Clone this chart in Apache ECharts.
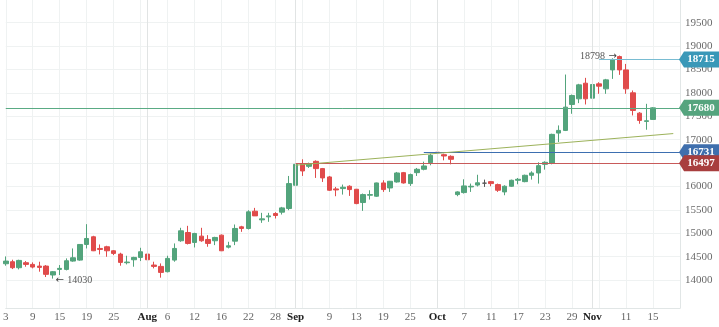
<!DOCTYPE html>
<html>
<head>
<meta charset="utf-8">
<script src="https://cdn.jsdelivr.net/npm/echarts@6/dist/echarts.min.js"></script>
<style>
  html, body { margin: 0; padding: 0; background: #ffffff; }
  #chart { width: 719px; height: 327px; }
</style>
</head>
<body>
<div id="chart"></div>
<script>
// Trading sessions (the last four are empty future sessions on the axis)
const days = [
  'Jul 3','Jul 4','Jul 5','Jul 8','Jul 9','Jul 10','Jul 11','Jul 12','Jul 15','Jul 16','Jul 17',
  'Jul 18','Jul 19','Jul 22','Jul 23','Jul 24','Jul 25','Jul 26','Jul 29','Jul 30','Jul 31',
  'Aug 1','Aug 2','Aug 5','Aug 6','Aug 7','Aug 8','Aug 9','Aug 12','Aug 13','Aug 14','Aug 15',
  'Aug 16','Aug 19','Aug 20','Aug 21','Aug 22','Aug 23','Aug 26','Aug 27','Aug 28','Aug 29','Aug 30',
  'Sep 2','Sep 3','Sep 4','Sep 5','Sep 6','Sep 9','Sep 10','Sep 11','Sep 12','Sep 13','Sep 16',
  'Sep 17','Sep 18','Sep 19','Sep 20','Sep 23','Sep 24','Sep 25','Sep 26','Sep 27','Sep 30',
  'Oct 1','Oct 2','Oct 3','Oct 4','Oct 7','Oct 8','Oct 9','Oct 10','Oct 11','Oct 14','Oct 15',
  'Oct 16','Oct 17','Oct 18','Oct 21','Oct 22','Oct 23','Oct 24','Oct 25','Oct 28','Oct 29',
  'Oct 30','Oct 31',
  'Nov 1','Nov 4','Nov 5','Nov 6','Nov 7','Nov 11','Nov 12','Nov 13','Nov 14','Nov 15',
  'Nov 18','Nov 19','Nov 20','Nov 21'
];

const opens = [
  14348,14391,14263,14370,14334,14298,14298,14107,14227,14227,14405,14426,14760,14924,14675,14711,
  14625,14554,14370,14433,14483,14554,14320,14291,14178,14426,14839,15016,14803,14938,14867,14839,
  14959,14703,14831,15137,15101,15471,15286,15350,15421,15450,15528,16025,16473,16430,16537,16381,
  16203,15947,15954,16004,15940,15656,15812,15791,16075,15968,16096,16295,16061,16295,16367,16509,
  16731,16679,16644,15826,15869,15990,16030,16070,16103,16039,15883,16004,16132,16103,16238,16288,
  16473,16502,17141,17198,17752,17873,18207,17887,18193,18086,18491,18776,18491,18001,17567,17390,
  17432
];
const closes = [
  14405,14263,14419,14334,14277,14270,14121,14178,14249,14412,14476,14760,14888,14625,14654,14625,
  14569,14377,14384,14483,14604,14433,14291,14163,14462,14675,15052,14782,14995,14839,14782,14910,
  14625,14732,15102,15102,15457,15371,15307,15371,15379,15542,16061,16473,16331,16487,16381,16182,
  15919,15926,15983,15933,15634,15826,15826,16075,15933,16111,16288,16075,16253,16367,16438,16665,
  16722,16651,16580,15883,16011,16004,16078,16070,16061,15919,16004,16132,16153,16238,16288,16445,
  16516,17113,17198,17695,17944,18171,17873,18179,18143,18278,18715,18491,18086,17624,17411,17404,
  17680
];
const lows = [
  14306,14234,14227,14284,14249,14178,14064,14030,14107,14206,14391,14412,14675,14618,14547,14497,
  14533,14306,14334,14284,14405,14341,14249,14050,14163,14391,14817,14760,14696,14817,14711,14746,
  14618,14675,14746,15030,15080,15371,15222,15244,15315,15400,15492,16025,16224,16395,16182,16096,
  15904,15791,15826,15798,15620,15478,15720,15777,15883,15883,16082,16061,16011,16224,16345,16452,
  16497,16558,16473,15791,15848,15883,16000,15990,16004,15883,15812,15990,16047,16089,16146,16061,
  16359,16473,16949,17184,17553,17781,17752,17710,17980,17980,18299,18385,17980,17518,17340,17212,
  17425
];
const highs = [
  14505,14434,14434,14405,14377,14391,14320,14192,14320,14462,14675,14760,15194,14945,14760,14732,
  14640,14583,14519,14497,14689,14568,14391,14355,14519,14782,15116,15158,15009,15116,14959,14924,
  14973,14817,15187,15158,15492,15542,15436,15436,15450,15563,16224,16580,16580,16509,16558,16395,
  16224,15990,16040,16025,15947,15848,15919,16082,16132,16118,16310,16310,16274,16395,16530,16700,
  16731,16700,16665,15897,16153,16061,16250,16146,16118,16061,16025,16146,16181,16253,16324,16516,
  16537,17127,17304,18392,17965,18193,18321,18207,18228,18299,18740,18798,18619,18051,17589,17766,
  17695
];

// Price axis labels
const yTicks = [14000,14500,15000,15500,16000,16500,17000,17500,18000,18500,19000,19500];

// Key levels and annotated extremes
const lastPrice = 17680;
const recentHighClose = 18715;
const breakoutLevel = 16731;
const supportLevel = 16497;
const trendStart = 16455;
const trendEnd = 17130;
const swingLow = 14030;
const swingHigh = 18798;

const FONT = '"Liberation Serif", "DejaVu Serif", serif';
const UP = '#53a47c';
const DOWN = '#e04b4b';
const GRID = '#eff2f2';

const ohlc = opens.map((o, i) => [o, closes[i], lows[i], highs[i]]);
const lastIdx = days.length - 1;
const lowIdx = lows.indexOf(swingLow);
const highIdx = highs.indexOf(swingHigh);
const firstOf = (m) => days.findIndex(d => d.startsWith(m));

const monthName = (d) => d.split(' ')[0];
const isMonthStart = (i) => i > 0 && monthName(days[i]) !== monthName(days[i - 1]);
const monthStarts = days.map((d, i) => i).filter(isMonthStart);
const nearMonthStart = (i) => monthStarts.some(m => m !== i && Math.abs(m - i) < 3);

function tag(value, color) {
  return {
    coord: [lastIdx, value],
    value: value,
    symbol: 'path://M0,8 L5,0 L40,0 L40,16 L5,16 Z',
    symbolSize: [40, 16],
    symbolOffset: [19, 0],
    itemStyle: { color: color },
    label: {
      show: true, position: 'inside', formatter: String(value), offset: [2, 0],
      color: '#ffffff', fontFamily: FONT, fontSize: 11, fontWeight: 'bold'
    }
  };
}

function hline(fromIdx, toIdx, v1, v2, color) {
  return [
    { coord: [fromIdx, v1], lineStyle: { color: color, width: 1, type: 'solid' } },
    { coord: [toIdx, v2] }
  ];
}

// Small arrow + number callouts at the swing extremes
const calloutRich = {
  a: { fontFamily: '"DejaVu Sans", sans-serif', fontSize: 10, color: '#444444' },
  n: { fontFamily: FONT, fontSize: 10, color: '#555555', padding: [0, 0, 0, 0] }
};
function callout(idx, value, side) {
  return {
    coord: [idx, value], symbol: 'rect', symbolSize: 1,
    itemStyle: { color: 'rgba(0,0,0,0)' },
    label: {
      show: true, position: side, distance: 2, offset: [0, side === 'right' ? 2 : 1],
      formatter: side === 'right' ? '{a|\u2190} {n|' + value + '}' : '{n|' + value + '} {a|\u2192}',
      rich: calloutRich
    }
  };
}

const monthLines = monthStarts.map(i => ({
  xAxis: i, lineStyle: { color: '#e1e4e4', width: 1, type: 'solid' }
}));

const chart = echarts.init(document.getElementById('chart'), null, { renderer: 'canvas' });

chart.setOption({
  backgroundColor: '#ffffff',
  animation: false,
  grid: { left: 3, right: 39, top: 0, bottom: 19, containLabel: false },
  xAxis: {
    type: 'category',
    data: days,
    boundaryGap: false,
    axisLine: { show: true, lineStyle: { color: '#e1e6e6' } },
    axisTick: { show: false },
    splitLine: { show: true, interval: 3, lineStyle: { color: GRID, width: 1 } },
    axisLabel: {
      show: true,
      margin: 4,
      interval: (i) => i <= lastIdx - 4 && ((i % 4 === 0 && !nearMonthStart(i)) || isMonthStart(i)),
      formatter: (value, i) => isMonthStart(i) ? '{m|' + monthName(value) + '}' : value.split(' ')[1],
      color: '#666666',
      fontFamily: FONT,
      fontSize: 11,
      rich: {
        m: { color: '#222222', fontWeight: 'bold', fontFamily: FONT, fontSize: 11 }
      }
    }
  },
  yAxis: {
    type: 'value',
    position: 'right',
    min: 13402,
    max: 19985,
    scale: true,
    axisLine: { show: true, lineStyle: { color: '#e1e6e6' } },
    axisTick: { show: false, customValues: yTicks },
    splitLine: { show: true, lineStyle: { color: GRID, width: 1 } },
    axisLabel: {
      show: true, customValues: yTicks, margin: 5,
      formatter: (v) => String(v),
      color: '#6b6b6b', fontFamily: FONT, fontSize: 11
    }
  },
  series: [{
    type: 'candlestick',
    data: ohlc,
    barWidth: 5,
    itemStyle: {
      color: UP, color0: DOWN,
      borderColor: UP, borderColor0: DOWN,
      borderColorDoji: '#555555',
      borderWidth: 1
    },
    markLine: {
      silent: true,
      symbol: ['none', 'none'],
      label: { show: false },
      data: [
        ...monthLines,
        { yAxis: lastPrice, lineStyle: { color: '#5aab84', width: 1, type: 'solid' } },
        hline(firstOf('Sep'), lastIdx, supportLevel, supportLevel, '#c85a5a'),
        hline(62, lastIdx, breakoutLevel, breakoutLevel, '#3d6fb0'),
        hline(88, lastIdx, recentHighClose, recentHighClose, '#79bcd2'),
        [
          { coord: [firstOf('Sep'), trendStart], lineStyle: { color: '#9cb25a', width: 1, type: 'solid' } },
          { coord: [lastIdx - 1, trendEnd] }
        ]
      ]
    },
    markPoint: {
      silent: true,
      data: [
        callout(lowIdx, swingLow, 'right'),
        callout(highIdx, swingHigh, 'left'),
        tag(recentHighClose, '#3a98b8'),
        tag(lastPrice, '#55a47e'),
        tag(breakoutLevel, '#3f6fad'),
        tag(supportLevel, '#a83e3e')
      ]
    }
  }]
});
</script>
</body>
</html>
